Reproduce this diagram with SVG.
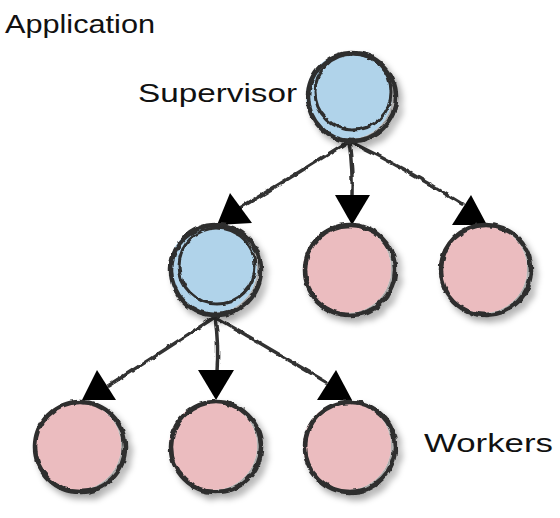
<svg xmlns="http://www.w3.org/2000/svg" width="560" height="518" viewBox="0 0 560 518">
<defs>
<filter id="shadow" x="-30%" y="-30%" width="160%" height="160%">
<feDropShadow dx="4" dy="5" stdDeviation="3" flood-color="#000" flood-opacity="0.35"/>
</filter>
<filter id="rough" x="-10%" y="-10%" width="120%" height="120%">
<feTurbulence type="fractalNoise" baseFrequency="0.12" numOctaves="2" seed="3" result="n"/>
<feDisplacementMap in="SourceGraphic" in2="n" scale="4" xChannelSelector="R" yChannelSelector="G"/>
</filter>
<style>
.lbl{font-family:"Liberation Sans","DejaVu Sans",sans-serif;fill:#111;}
.ring{fill:none;stroke:#2e2e2e;stroke-width:4.5;}
.ring2{fill:none;stroke:#2e2e2e;stroke-width:3;}
.blue{fill:#b0d3ea;}
.pink{fill:#ebbcbf;}
.edge{fill:none;stroke:#333;stroke-width:3.5;stroke-linecap:round;}
.head{fill:#000;}
</style>
</defs>
<rect width="560" height="518" fill="#fff"/>
<text class="lbl" x="5" y="33" font-size="26" textLength="150" lengthAdjust="spacingAndGlyphs">Application</text>
<text class="lbl" x="138" y="102" font-size="25" textLength="159" lengthAdjust="spacingAndGlyphs">Supervisor</text>
<text class="lbl" x="424" y="452" font-size="25" textLength="129" lengthAdjust="spacingAndGlyphs">Workers</text>

<g id="connectors">
<g filter="url(#rough)">
<path class="edge" d="M349,141 Q300,172 240,208"/>
<path class="edge" d="M349,141 Q353,170 352,197"/>
<path class="edge" d="M349,141 Q405,168 462,204"/>
<path class="edge" d="M215,317 Q165,350 108,386"/>
<path class="edge" d="M215,317 Q219,345 217,372"/>
<path class="edge" d="M215,317 Q272,350 326,382"/>
</g>
<polygon class="head" points="230,193 217,225 252,223"/>
<polygon class="head" points="335,195 370,195 352,225"/>
<polygon class="head" points="471,195 452,225 487,225"/>
<polygon class="head" points="97,370 82,400 116,400"/>
<polygon class="head" points="198,370 234,370 216,400"/>
<polygon class="head" points="336,370 317,400 352,400"/>
</g>

<g id="supervisor" filter="url(#shadow)">
<circle class="blue" cx="349" cy="96" r="43"/>
<g filter="url(#rough)">
<circle class="ring" cx="352" cy="97" r="44"/>
<circle class="ring2" cx="353" cy="92" r="38"/>
</g>
</g>

<g id="sub-supervisor" filter="url(#shadow)">
<circle class="blue" cx="213" cy="269" r="44"/>
<g filter="url(#rough)">
<circle class="ring" cx="216" cy="270" r="45"/>
<circle class="ring2" cx="217" cy="266" r="38"/>
</g>
</g>

<g id="worker-1" filter="url(#shadow)">
<circle class="pink" cx="347" cy="269" r="44"/>
<circle class="ring" cx="350" cy="270" r="45" filter="url(#rough)"/>
</g>
<g id="worker-2" filter="url(#shadow)">
<circle class="pink" cx="483" cy="269" r="44"/>
<circle class="ring" cx="486" cy="270" r="45" filter="url(#rough)"/>
</g>
<g id="worker-3" filter="url(#shadow)">
<circle class="pink" cx="77" cy="446" r="44"/>
<circle class="ring" cx="80" cy="447" r="45" filter="url(#rough)"/>
</g>
<g id="worker-4" filter="url(#shadow)">
<circle class="pink" cx="213" cy="446" r="44"/>
<circle class="ring" cx="216" cy="447" r="45" filter="url(#rough)"/>
</g>
<g id="worker-5" filter="url(#shadow)">
<circle class="pink" cx="347" cy="446" r="44"/>
<circle class="ring" cx="350" cy="447" r="45" filter="url(#rough)"/>
</g>
</svg>
